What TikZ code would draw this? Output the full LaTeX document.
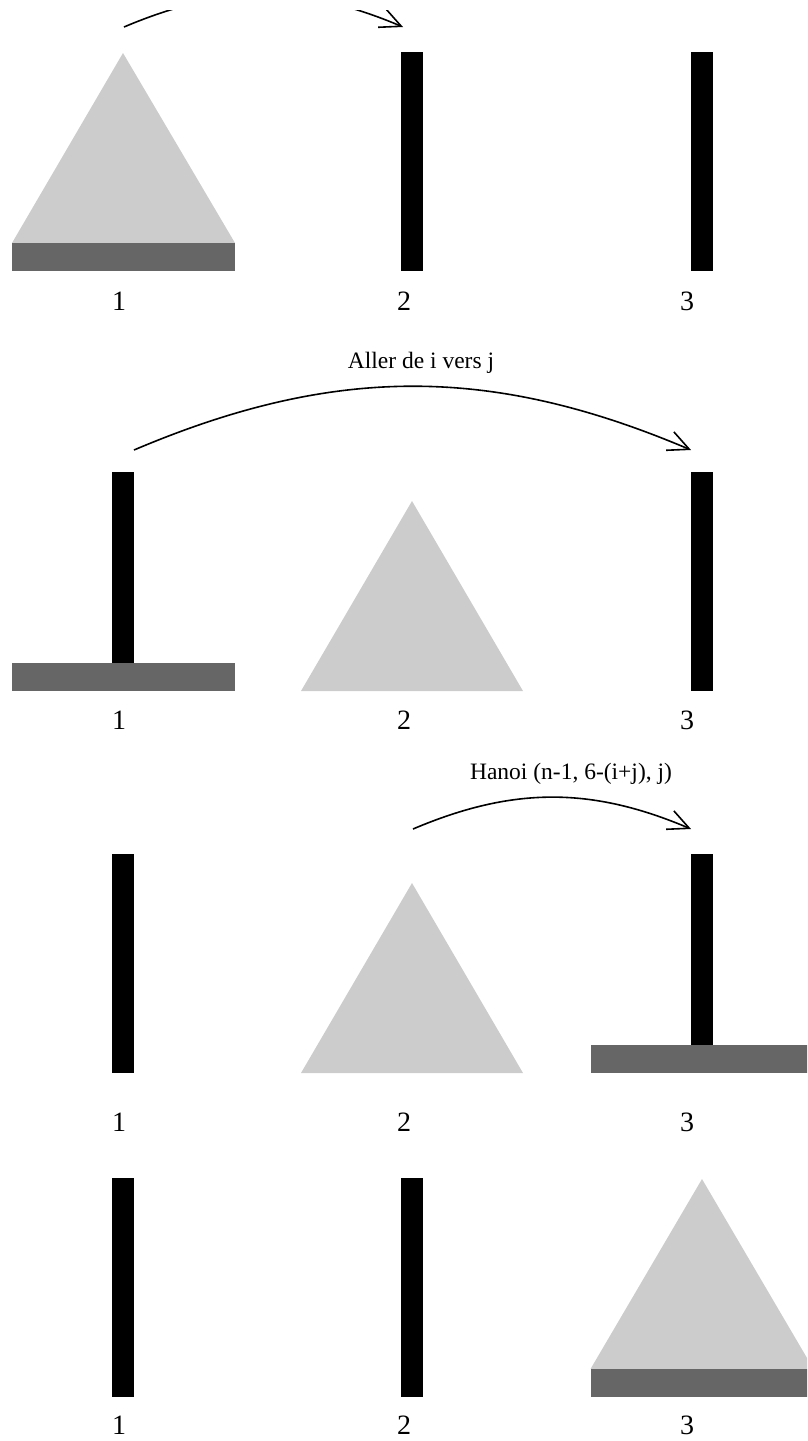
\documentclass[tikz,border=0pt]{standalone}
\usepackage{fontspec}
\setmainfont{Liberation Serif}
\usetikzlibrary{arrows.meta}
\begin{document}
\begin{tikzpicture}[x=1pt,y=-1pt,
  peg/.style={fill=black},
  disk/.style={fill=black!60},
  tower/.style={fill=black!20},
  num/.style={font=\fontsize{28}{32}\selectfont,inner sep=0pt},
  lbl/.style={font=\fontsize{23.5}{28}\selectfont,inner sep=0pt,anchor=base},
  move/.style={-{Straight Barb[length=21pt,width=20pt]},line width=1.6pt}]
\useasboundingbox (0,0) rectangle (807,1441);
\clip (0,10) rectangle (807,1441);
% row 1 : start
\fill[tower] (123,53) -- (12,243) -- (235,243) -- cycle;
\fill[disk] (12,243) rectangle (235,271);
\fill[peg] (401,52) rectangle (423,271);
\fill[peg] (691,52) rectangle (713,271);
\coordinate (s1) at (124,27);
\coordinate (t1) at (403,27);
\draw[move] (s1) to[bend left=23] (t1);
% row 2 : largest disk
\fill[peg] (112,472) rectangle (134,691);
\fill[disk] (12,663) rectangle (235,691);
\fill[tower] (412,501) -- (301,691) -- (523,691) -- cycle;
\fill[peg] (691,472) rectangle (713,691);
\coordinate (s2) at (134,450);
\coordinate (t2) at (691,450);
\draw[move] (s2) to[bend left=23] (t2);
\node[lbl] (aller) at (421,368) {Aller de i vers j};
% row 3 : rest of the tower
\fill[peg] (112,854) rectangle (134,1073);
\fill[tower] (412,883) -- (301,1073) -- (523,1073) -- cycle;
\fill[peg] (691,854) rectangle (713,1073);
\fill[disk] (590.5,1045) rectangle (813.5,1073);
\coordinate (s3) at (413,829);
\coordinate (t3) at (691,829);
\draw[move] (s3) to[bend left=23] (t3);
\node[lbl] (hanoi) at (571,779) {Hanoi (n-1, 6-(i+j), j)};
% row 4 : end
\fill[peg] (112,1178) rectangle (134,1397);
\fill[peg] (401,1178) rectangle (423,1397);
\fill[tower] (702,1179) -- (590.5,1369) -- (813.5,1369) -- cycle;
\fill[disk] (590.5,1369) rectangle (813.5,1397);
% peg numbers
\foreach \y/\r in {301/a,720/b,1122/c,1425/d}{
  \node[num] (one\r) at (119,\y) {1};
  \node[num] (two\r) at (404,\y) {2};
  \node[num] (three\r) at (687,\y) {3};
}
\end{tikzpicture}
\end{document}
